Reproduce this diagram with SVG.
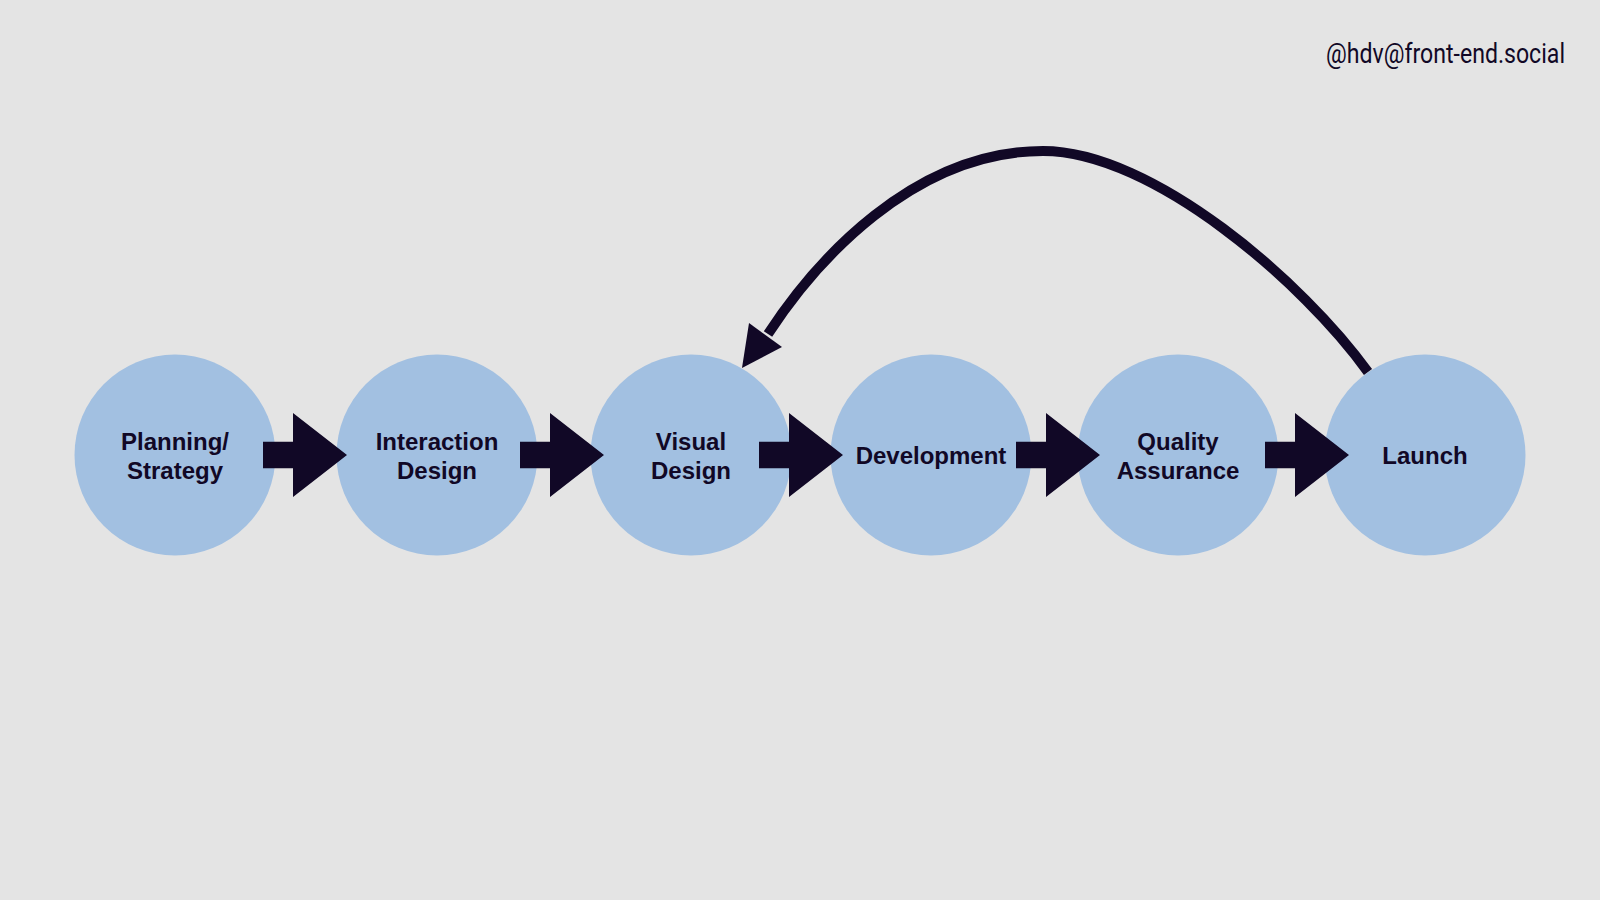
<svg xmlns="http://www.w3.org/2000/svg" width="1600" height="900" viewBox="0 0 1600 900">
  <style>
    .node circle { fill: #a2c0e1; }
    .label { font-family: "Liberation Sans", Arial, sans-serif; font-weight: bold; font-size: 24px; fill: #110826; text-anchor: middle; }
    .handle { font-family: Roboto, "Liberation Sans", sans-serif; font-size: 28px; fill: #110826; text-anchor: end; }
    .flow { fill: #110826; }
    .loop { fill: none; stroke: #110826; stroke-width: 10; }
  </style>
  <defs>
    <path id="fat-arrow" d="M -84 -13.3 L -54 -13.3 L -54 -42 L 0 0 L -54 42 L -54 13.3 L -84 13.3 Z"/>
  </defs>
  <rect width="1600" height="900" fill="#e4e4e4"/>
  <text class="handle" transform="translate(1565,63) scale(0.825,1)" x="0" y="0">@hdv@front-end.social</text>

  <g id="node-planning" class="node">
    <circle cx="175" cy="455" r="100.5"/>
    <text class="label" x="175" y="450">Planning/</text>
    <text class="label" x="175" y="479">Strategy</text>
  </g>
  <g id="node-interaction" class="node">
    <circle cx="437" cy="455" r="100.5"/>
    <text class="label" x="437" y="450">Interaction</text>
    <text class="label" x="437" y="479">Design</text>
  </g>
  <g id="node-visual" class="node">
    <circle cx="691" cy="455" r="100.5"/>
    <text class="label" x="691" y="450">Visual</text>
    <text class="label" x="691" y="479">Design</text>
  </g>
  <g id="node-development" class="node">
    <circle cx="931" cy="455" r="100.5"/>
    <text class="label" x="931" y="464">Development</text>
  </g>
  <g id="node-qa" class="node">
    <circle cx="1178" cy="455" r="100.5"/>
    <text class="label" x="1178" y="450">Quality</text>
    <text class="label" x="1178" y="479">Assurance</text>
  </g>
  <g id="node-launch" class="node">
    <circle cx="1425" cy="455" r="100.5"/>
    <text class="label" x="1425" y="464">Launch</text>
  </g>

  <g id="connectors">
    <use href="#fat-arrow" class="flow" transform="translate(347,455)"/>
    <use href="#fat-arrow" class="flow" transform="translate(604,455)"/>
    <use href="#fat-arrow" class="flow" transform="translate(843,455)"/>
    <use href="#fat-arrow" class="flow" transform="translate(1100,455)"/>
    <use href="#fat-arrow" class="flow" transform="translate(1349,455)"/>
    <path class="loop" d="M 1368 372 C 1304 283 1153 151 1043 151 C 913 151 815 262 768 334"/>
    <polygon class="flow" points="742,368 749,323 782,347"/>
  </g>
</svg>
